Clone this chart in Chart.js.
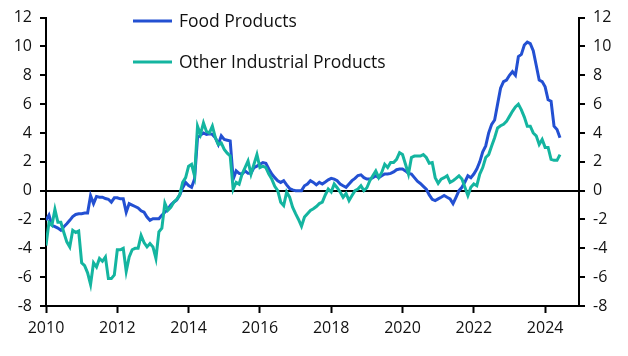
<!DOCTYPE html>
<html><head><meta charset="utf-8">
<script src="https://cdn.jsdelivr.net/npm/chart.js@4"></script>
<style>html,body{margin:0;padding:0;background:#fff}#wrap{width:628px;height:356px;position:relative}</style>
</head><body><div id="wrap"><canvas id="c" width="628" height="356"></canvas></div>
<script>
// Monthly data, first value = January 2010
const startYear = 2010;
const seriesNames = ['Food Products', 'Other Industrial Products'];
const foodProducts = [
  -2.06,-1.7,-2.4,-2.5,-2.6,-2.75,-2.5,-2.3,-2.06,-1.8,-1.65,-1.6,
  -1.6,-1.55,-1.55,-0.35,-0.9,-0.4,-0.45,-0.45,-0.55,-0.6,-0.8,-0.5,
  -0.5,-0.57,-0.57,-1.5,-0.9,-1.0,-1.1,-1.2,-1.4,-1.5,-1.83,-2.06,
  -1.95,-1.95,-1.95,-1.7,-1.5,-1.3,-1.0,-0.8,-0.65,-0.3,0.2,0.57,
  0.35,0.23,0.8,3.67,3.85,4.0,3.9,3.95,3.9,3.67,3.2,3.8,
  3.55,3.5,3.45,0.8,1.37,1.2,1.15,1.37,1.2,1.2,1.6,1.7,
  1.83,1.95,1.9,1.5,1.15,0.9,0.69,0.57,0.69,0.4,0.15,0.05,
  0,0,0,0.34,0.46,0.69,0.57,0.4,0.57,0.46,0.6,0.75,
  0.85,0.8,0.69,0.46,0.34,0.23,0.46,0.69,0.85,1.05,1.1,0.9,
  0.8,0.8,0.9,1.03,0.9,1.03,1.15,1.15,1.2,1.3,1.45,1.5,
  1.5,1.37,1.2,1.15,0.9,0.65,0.5,0.3,0.1,-0.3,-0.6,-0.69,
  -0.57,-0.46,-0.34,-0.46,-0.57,-0.9,-0.46,0,0.23,0.6,1.03,0.9,
  1.15,1.5,2.0,2.7,3.1,4.0,4.6,4.9,6.0,7.1,7.56,7.67,
  8.0,8.25,8.0,9.3,9.45,10.1,10.3,10.2,9.7,8.7,7.67,7.56,
  7.2,6.3,6.2,4.47,4.24,3.67
];
const otherIndustrialProducts = [
  -3.8,-2.2,-2.4,-1.3,-2.2,-2.2,-2.9,-3.55,-3.9,-2.75,-2.9,-2.8,
  -5.0,-5.2,-5.7,-6.5,-5.0,-5.3,-4.7,-4.9,-4.6,-6.1,-6.1,-5.85,
  -4.1,-4.1,-4.0,-5.6,-4.6,-4.1,-4.0,-4.0,-3.1,-3.6,-3.9,-3.67,
  -3.9,-4.7,-2.86,-2.6,-0.87,-1.37,-1.15,-0.8,-0.6,-0.3,0.57,0.9,
  1.7,1.83,1.03,4.47,3.9,4.7,4.1,4.0,4.47,3.67,3.2,3.3,
  2.86,2.6,2.4,0.1,0.57,0.45,1.15,1.6,2.06,1.15,1.83,2.5,
  1.6,1.7,1.6,1.15,0.8,0.3,0,-0.8,-1.03,-0.1,-0.45,-1.15,
  -1.6,-2.0,-2.47,-1.83,-1.6,-1.37,-1.26,-1.1,-0.9,-0.8,-0.3,0.11,
  -0.1,0.46,0.2,-0.1,-0.46,-0.2,-0.69,-0.34,0,0.11,0.34,0,
  0.2,0.69,1.03,1.37,0.9,1.26,1.83,1.6,1.95,1.95,2.17,2.63,
  2.5,1.83,1.15,2.3,2.4,2.4,2.4,2.5,2.3,1.9,1.95,0.9,
  0.5,0.8,0.9,1.03,0.57,0.69,0.85,1.03,0.8,0.23,-0.34,0.23,
  0.46,0.34,1.15,1.6,2.3,2.5,3.1,3.67,4.35,4.5,4.6,4.8,
  5.15,5.5,5.8,6.0,5.6,5.1,4.47,4.47,4.0,3.8,3.2,3.55,
  3.0,3.0,2.17,2.1,2.1,2.5
];
const xTickYears = [2010, 2012, 2014, 2016, 2018, 2020, 2022, 2024];
const yTickValues = [-8, -6, -4, -2, 0, 2, 4, 6, 8, 10, 12];
const colors = ['#2350d2', '#14b5a0'];

const toPoints = arr => arr.map((v, i) => ({ x: startYear + i / 12, y: v }));
const FONT = '"Open Sans", Lato, sans-serif';

const legendPlugin = {
  id: 'insideLegend',
  afterDraw(chart) {
    const ctx = chart.ctx;
    const rows = [21, 62];
    ctx.save();
    chart.data.datasets.forEach((ds, i) => {
      const y = rows[i];
      ctx.strokeStyle = ds.borderColor;
      ctx.lineWidth = 3;
      ctx.beginPath();
      ctx.moveTo(133, y); ctx.lineTo(172, y);
      ctx.stroke();
      ctx.fillStyle = '#111';
      ctx.font = '17.5px ' + FONT;
      ctx.textBaseline = 'middle';
      ctx.textAlign = 'left';
      ctx.fillText(ds.label, 179, y + 1);
    });
    ctx.restore();
  }
};

const yScale = (pos) => ({
  type: 'linear', position: pos, min: -8, max: 12,
  afterBuildTicks: s => { s.ticks = yTickValues.map(v => ({ value: v })); },
  afterFit: s => { s.width = pos === 'left' ? 46 : 49; },
  border: { display: true, color: '#000', width: 2 },
  grid: {
    display: true,
    drawOnChartArea: pos === 'left',
    color: c => (c.tick && c.tick.value === 0) ? '#000' : 'rgba(0,0,0,0)',
    lineWidth: 2,
    tickColor: '#000',
    tickLength: 6,
    tickWidth: 2
  },
  ticks: { color: '#111', font: { family: FONT, size: 16 }, padding: 8 }
});

new Chart(document.getElementById('c'), {
  type: 'line',
  data: {
    datasets: [
      { label: seriesNames[0], data: toPoints(foodProducts), borderColor: colors[0], borderWidth: 3, pointRadius: 0, tension: 0, order: 2, yAxisID: 'y' },
      { label: seriesNames[1], data: toPoints(otherIndustrialProducts), borderColor: colors[1], borderWidth: 3, pointRadius: 0, tension: 0, order: 1, yAxisID: 'y' }
    ]
  },
  options: {
    responsive: false, animation: false, devicePixelRatio: 1,
    layout: { padding: { top: 13, left: 0, right: 0, bottom: 0 } },
    plugins: { legend: { display: false }, tooltip: { enabled: false } },
    scales: {
      x: {
        type: 'linear', min: 2010, max: 2024.95,
        afterBuildTicks: s => { s.ticks = xTickYears.map(v => ({ value: v })); },
        afterFit: s => { s.height = 50; },
        border: { display: true, color: '#000', width: 2 },
        grid: { display: true, drawOnChartArea: false, tickColor: '#000', tickLength: 7, tickWidth: 2 },
        ticks: { color: '#111', font: { family: FONT, size: 16 }, padding: 6, maxRotation: 0, callback: v => String(v) }
      },
      y: yScale('left'),
      y2: yScale('right')
    }
  },
  plugins: [legendPlugin]
});
</script></body></html>
